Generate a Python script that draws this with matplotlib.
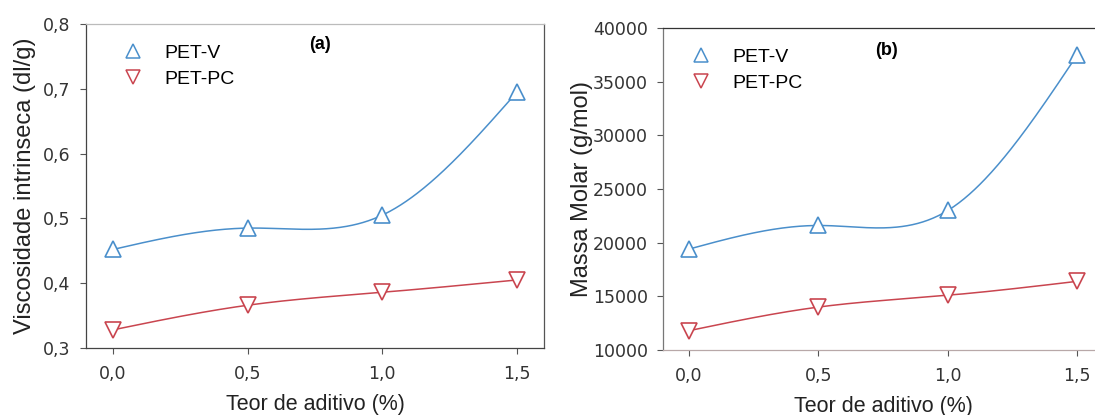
import numpy as np
import matplotlib
matplotlib.use('Agg')
import matplotlib.pyplot as plt
from matplotlib.lines import Line2D

# дані
teor = [0.0, 0.5, 1.0, 1.5]
visc_pet_v = [0.452, 0.485, 0.505, 0.695]
visc_pet_pc = [0.328, 0.366, 0.386, 0.405]
massa_pet_v = [19400, 21600, 23000, 37500]
massa_pet_pc = [11800, 14000, 15100, 16400]

x_ticks = [0.0, 0.5, 1.0, 1.5]
x_tick_labels = ['0,0', '0,5', '1,0', '1,5']
visc_ticks = [0.3, 0.4, 0.5, 0.6, 0.7, 0.8]
visc_tick_labels = ['0,3', '0,4', '0,5', '0,6', '0,7', '0,8']
massa_ticks = [10000, 15000, 20000, 25000, 30000, 35000, 40000]

BLUE = '#4a8fcb'
RED = '#c9454f'


def natural_spline(x, y, n=300):
    """Natural cubic spline through the points."""
    x = np.asarray(x, float)
    y = np.asarray(y, float)
    k = len(x)
    h = np.diff(x)
    A = np.zeros((k, k))
    b = np.zeros(k)
    A[0, 0] = 1
    A[-1, -1] = 1
    for i in range(1, k - 1):
        A[i, i - 1] = h[i - 1]
        A[i, i] = 2 * (h[i - 1] + h[i])
        A[i, i + 1] = h[i]
        b[i] = 6 * ((y[i + 1] - y[i]) / h[i] - (y[i] - y[i - 1]) / h[i - 1])
    M = np.linalg.solve(A, b)
    xs = np.linspace(x[0], x[-1], n)
    ys = np.empty_like(xs)
    for j, t in enumerate(xs):
        i = min(np.searchsorted(x, t, side='right') - 1, k - 2)
        a = x[i + 1] - t
        c = t - x[i]
        ys[j] = (M[i] * a ** 3 / (6 * h[i]) + M[i + 1] * c ** 3 / (6 * h[i])
                 + (y[i] / h[i] - M[i] * h[i] / 6) * a
                 + (y[i + 1] / h[i] - M[i + 1] * h[i] / 6) * c)
    return xs, ys


def draw_panel(ax, yv, ypc, ylabel, tag, yticks, ylabels, ylim, leg_x):
    for vals, col, mk in [(yv, BLUE, '^'), (ypc, RED, 'v')]:
        xs, ys = natural_spline(teor, vals)
        ax.plot(xs, ys, color=col, lw=1.1, zorder=2)
        ax.plot(teor, vals, ls='none', marker=mk, ms=12, mfc='white',
                mec=col, mew=1.2, zorder=3, clip_on=False)
    ax.set_xlim(-0.1, 1.6)
    ax.set_ylim(*ylim)
    ax.set_xticks(x_ticks)
    ax.set_xticklabels(x_tick_labels)
    ax.set_yticks(yticks)
    ax.set_yticklabels(ylabels)
    ax.tick_params(direction='out', length=4, width=0.8, color='#555555',
                   labelsize=12.5, labelcolor='#333333')
    ax.tick_params(axis='x', pad=8)
    ax.tick_params(axis='y', pad=7)
    for t in ax.get_xticklabels() + ax.get_yticklabels():
        t.set_fontfamily('DejaVu Sans')
    ax.set_xlabel('Teor de aditivo (%)', fontsize=15.5, family='Liberation Sans',
                  color='#222222', labelpad=8)
    ax.set_ylabel(ylabel, fontsize=17, family='Liberation Sans', color='#222222')
    handles = [Line2D([], [], ls='none', marker='^', ms=10, mfc='white', mec=BLUE, mew=1.1),
               Line2D([], [], ls='none', marker='v', ms=10, mfc='white', mec=RED, mew=1.1)]
    ax.legend(handles, ['PET-V', 'PET-PC'], loc='upper left', bbox_to_anchor=(leg_x, 0.99),
              frameon=False, handlelength=1.0, handletextpad=1.1, labelspacing=0.42,
              prop={'family': 'Liberation Sans', 'size': 14})
    ax.text(tag[1], tag[2], tag[0], transform=ax.transAxes, fontsize=13,
            fontweight='bold', family='Liberation Sans', ha='center', va='center')


fig = plt.figure(figsize=(10.95, 4.15), dpi=100)
ax1 = fig.add_axes([0.0785, 0.1614, 0.4183, 0.781])
ax2 = fig.add_axes([0.6055, 0.1566, 0.4020, 0.776])

draw_panel(ax1, visc_pet_v, visc_pet_pc, 'Viscosidade intrinseca (dl/g)',
           ('(a)', 0.511, 0.935), visc_ticks, visc_tick_labels, (0.3, 0.8), 0.044)
draw_panel(ax2, massa_pet_v, massa_pet_pc, 'Massa Molar (g/mol)',
           ('(b)', 0.507, 0.93), massa_ticks, [str(v) for v in massa_ticks], (10000, 40000), 0.024)

# рамки
ax1.spines['left'].set_color('#444444')
ax1.spines['bottom'].set_color('#444444')
ax1.spines['top'].set_color('#bbbbbb')
ax1.spines['right'].set_color('#555555')
ax2.spines['left'].set_color('#777777')
ax2.spines['top'].set_color('#333333')
ax2.spines['bottom'].set_color('#b8a8a8')
ax2.spines['right'].set_visible(False)
for ax in (ax1, ax2):
    for s in ax.spines.values():
        s.set_linewidth(0.9)
ax1.yaxis.set_label_coords(-0.11, 0.5)
ax2.yaxis.set_label_coords(-0.158, 0.5)

fig.savefig('out.png', dpi=100)
